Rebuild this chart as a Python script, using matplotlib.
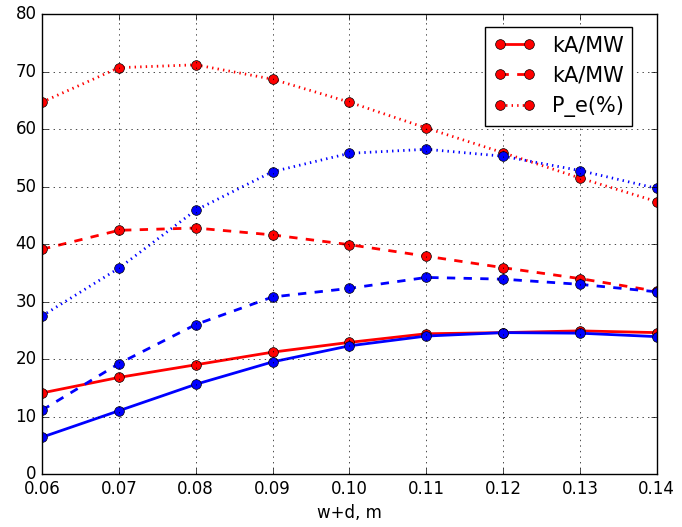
import matplotlib
matplotlib.use("Agg")
import matplotlib.pyplot as plt

plt.style.use("classic")

wd = [0.06, 0.07, 0.08, 0.09, 0.10, 0.11, 0.12, 0.13, 0.14]

red_solid = [14.1, 16.8, 19.0, 21.2, 22.9, 24.4, 24.6, 24.9, 24.6]
blue_solid = [6.4, 11.0, 15.6, 19.5, 22.3, 24.0, 24.6, 24.5, 23.9]
red_dashed = [39.1, 42.4, 42.8, 41.6, 39.9, 37.9, 35.9, 34.0, 31.8]
blue_dashed = [11.1, 19.2, 26.0, 30.8, 32.3, 34.2, 33.9, 33.0, 31.7]
red_dotted = [64.7, 70.7, 71.2, 68.7, 64.7, 60.2, 55.9, 51.5, 47.4]
blue_dotted = [27.5, 35.8, 45.9, 52.6, 55.8, 56.5, 55.3, 52.8, 49.7]

fig = plt.figure(figsize=(6.82, 5.27), dpi=100, facecolor="white")
ax = fig.add_axes([0.0616, 0.1006, 0.9014, 0.8724])

kw = dict(marker="o", markersize=7, markeredgecolor="black", linewidth=2)
ax.plot(wd, red_solid, "r-", label="kA/MW", **kw)
ax.plot(wd, red_dashed, "r--", label="kA/MW", **kw)
ax.plot(wd, red_dotted, "r:", label="P_e(%)", **kw)
ax.plot(wd, blue_solid, "b-", **kw)
ax.plot(wd, blue_dashed, "b--", **kw)
ax.plot(wd, blue_dotted, "b:", **kw)

ax.set_xlim(0.06, 0.14)
ax.set_ylim(0, 80)
ax.set_xticks(wd)
ax.set_xticklabels(["%.2f" % v for v in wd])
ax.grid(True)
ax.set_xlabel("w+d, m")
ax.legend(loc="upper right", numpoints=2, fontsize=15,
          bbox_to_anchor=(632 / 682, 1 - 27 / 527),
          bbox_transform=fig.transFigure, borderaxespad=0)

fig.savefig("out.png", dpi=100, facecolor="white")
